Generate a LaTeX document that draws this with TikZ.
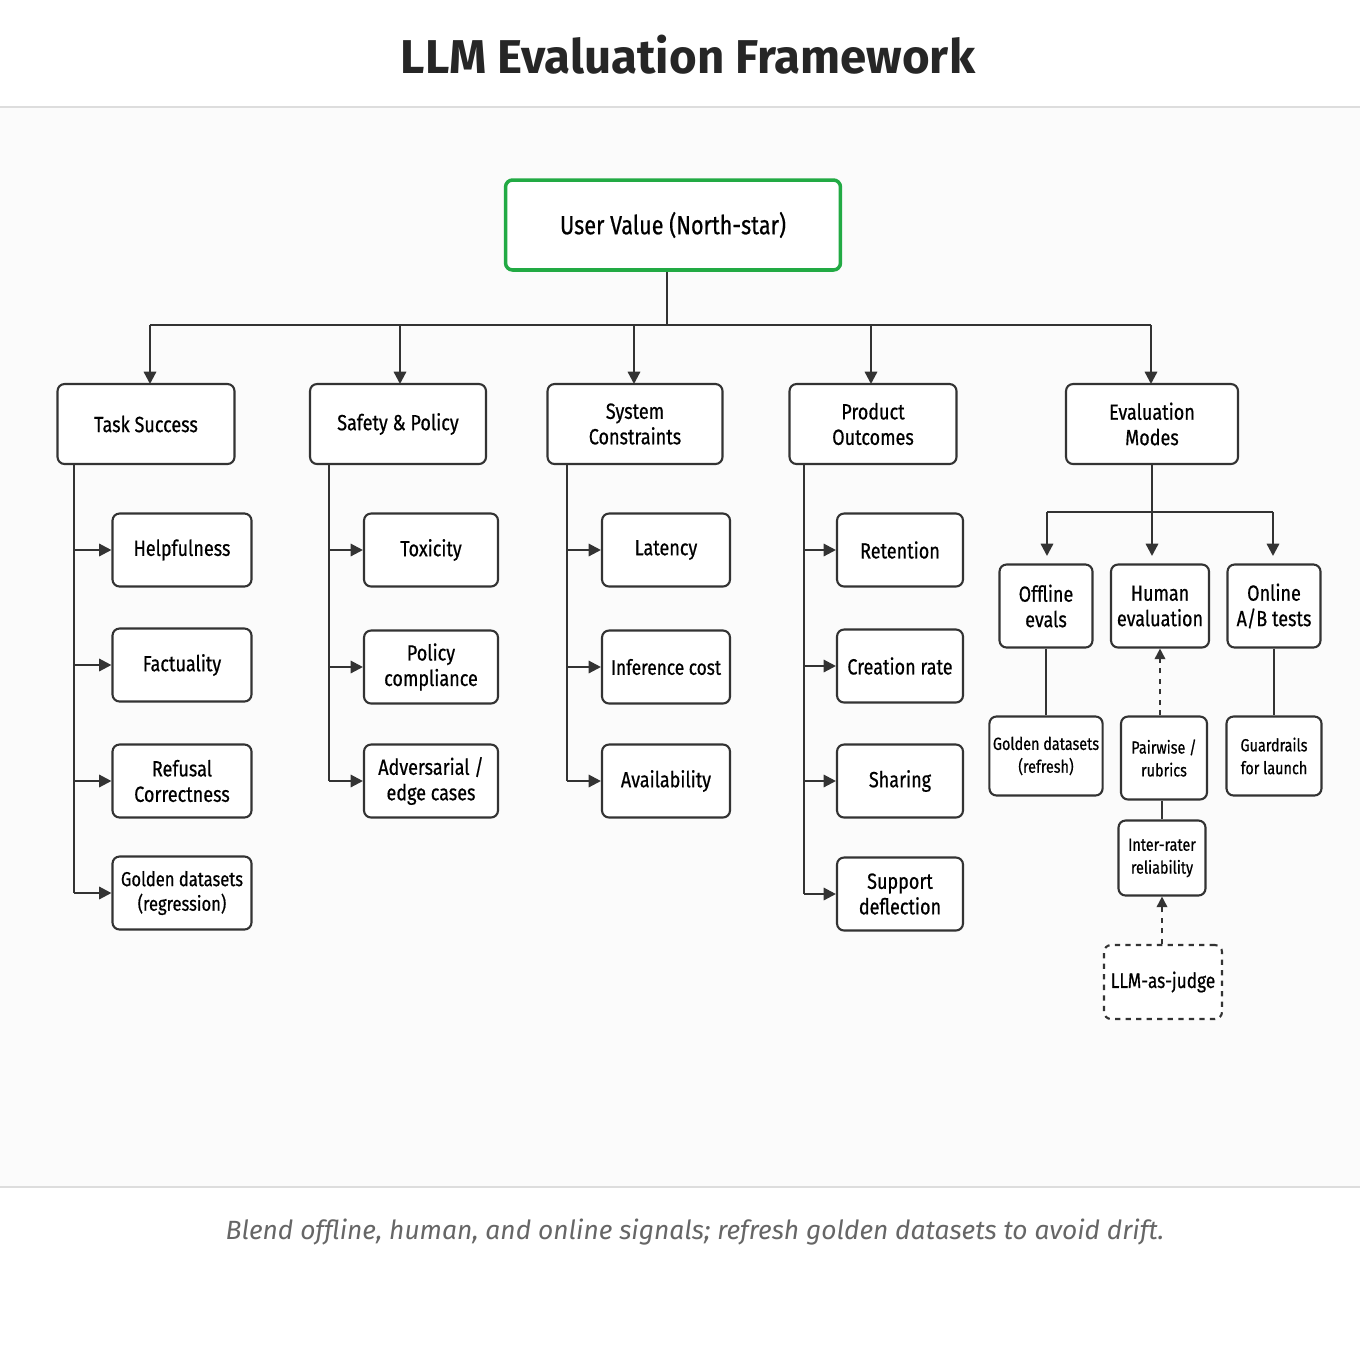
\documentclass[tikz,border=0pt]{standalone}
\usepackage{fontspec}
\setmainfont{Fira Sans}
\newfontfamily\boxfont[FakeStretch=0.82,FakeBold=0.6]{Fira Sans}
\usepackage{xcolor}
\usetikzlibrary{positioning, calc, arrows.meta}
\definecolor{rootgreen}{HTML}{22AA44}
\definecolor{linegray}{HTML}{DDDDDD}
\definecolor{footgray}{HTML}{666666}
\definecolor{boxline}{HTML}{333333}
\tikzset{
  box/.style={draw=boxline, line width=1.2pt, rounded corners=4pt, fill=white, align=center,
    font=\boxfont\fontsize{12.5}{14.5}\selectfont, inner sep=2pt},
  small/.style={box, font=\boxfont\fontsize{10}{13}\selectfont},
  link/.style={line width=1.3pt, draw=boxline},
  arr/.style={link, -{Triangle[length=7pt,width=7pt]}},
  darr/.style={line width=1pt, draw=boxline, dashed, -{Triangle[length=6pt,width=6pt]}}
}
\begin{document}
\begin{tikzpicture}[x=0.02cm,y=-0.02cm]
      \useasboundingbox (0,0) rectangle (1360,1360);
      \fill[white] (0,0) rectangle (1360,1360);
      \fill[black!1.5] (0,107) rectangle (1360,1187);
      \draw[linegray, line width=1pt] (0,107) -- (1360,107);
      \draw[linegray, line width=1pt] (0,1187) -- (1360,1187);
      \node[font=\bfseries\fontsize{27}{30}\selectfont, text=black!85] (title) at (688,55) {LLM Evaluation Framework};
      \node[font=\itshape\fontsize{15}{18}\selectfont, text=footgray] (foot) at (695,1232) {Blend offline, human, and online signals; refresh golden datasets to avoid drift.};
      % root
      \node[box, draw=rootgreen, line width=2pt, minimum width=6.7cm, minimum height=1.8cm, font=\boxfont\fontsize{15}{17}\selectfont] (root) at (673,225) {User Value (North-star)};
      % categories
      \node[box, minimum width=3.54cm, minimum height=1.6cm] (task) at (146,424) {Task Success};
      \node[box, minimum width=3.52cm, minimum height=1.6cm] (safety) at (398,424) {Safety \& Policy};
      \node[box, minimum width=3.5cm, minimum height=1.6cm] (system) at (635,424) {System\\Constraints};
      \node[box, minimum width=3.34cm, minimum height=1.6cm] (product) at (873,424) {Product\\Outcomes};
      \node[box, minimum width=3.44cm, minimum height=1.6cm] (modes) at (1152,424) {Evaluation\\Modes};
      \coordinate (bus) at (667,325);
      \draw[link] (root.south -| bus) -- (bus);
      \draw[link] (150,325) -- (1151,325);
      \foreach \n/\x in {task/150, safety/400, system/634, product/871, modes/1151}
        \draw[arr] (\x,325) -- (\x,384);
      % task success
      \node[box, minimum width=2.78cm, minimum height=1.46cm] (help) at (182,550) {Helpfulness};
      \node[box, minimum width=2.78cm, minimum height=1.46cm] (fact) at (182,665) {Factuality};
      \node[box, minimum width=2.78cm, minimum height=1.46cm] (refusal) at (182,781) {Refusal\\Correctness};
      \node[box, minimum width=2.78cm, minimum height=1.46cm, font=\boxfont\fontsize{11.5}{14}\selectfont] (golden) at (182,893) {Golden datasets\\(regression)};
      \draw[link] (74,464) -- (74,893);
      \foreach \n in {help, fact, refusal, golden}
        \draw[arr] (74,0 |- \n.west) -- (\n.west);
      % safety
      \node[box, minimum width=2.68cm, minimum height=1.46cm] (toxic) at (431,550) {Toxicity};
      \node[box, minimum width=2.68cm, minimum height=1.46cm] (policy) at (431,667) {Policy\\compliance};
      \node[box, minimum width=2.68cm, minimum height=1.46cm] (adv) at (431,781) {Adversarial /\\edge cases};
      \draw[link] (329,464) -- (329,781);
      \foreach \n in {toxic, policy, adv}
        \draw[arr] (329,0 |- \n.west) -- (\n.west);
      % system
      \node[box, minimum width=2.56cm, minimum height=1.46cm] (latency) at (666,550) {Latency};
      \node[box, minimum width=2.56cm, minimum height=1.46cm, font=\boxfont\fontsize{12}{14}\selectfont] (cost) at (666,667) {Inference cost};
      \node[box, minimum width=2.56cm, minimum height=1.46cm] (avail) at (666,781) {Availability};
      \draw[link] (567,464) -- (567,781);
      \foreach \n in {latency, cost, avail}
        \draw[arr] (567,0 |- \n.west) -- (\n.west);
      % product
      \node[box, minimum width=2.52cm, minimum height=1.46cm] (retention) at (900,550) {Retention};
      \node[box, minimum width=2.52cm, minimum height=1.46cm] (creation) at (900,666) {Creation rate};
      \node[box, minimum width=2.52cm, minimum height=1.46cm] (sharing) at (900,781) {Sharing};
      \node[box, minimum width=2.52cm, minimum height=1.46cm] (support) at (900,894) {Support\\deflection};
      \draw[link] (804,464) -- (804,894);
      \foreach \n in {retention, creation, sharing, support}
        \draw[arr] (804,0 |- \n.west) -- (\n.west);
      % evaluation modes
      \node[box, minimum width=1.86cm, minimum height=1.66cm] (offline) at (1046,606) {Offline\\evals};
      \node[box, minimum width=1.96cm, minimum height=1.66cm] (human) at (1160,606) {Human\\evaluation};
      \node[box, minimum width=1.86cm, minimum height=1.66cm] (online) at (1274,606) {Online\\A/B tests};
      \draw[link] (modes.south) -- (1152,512);
      \draw[link] (1047,512) -- (1273,512);
      \foreach \x in {1047, 1152, 1273}
        \draw[arr] (\x,512) -- (\x,556);
      \node[small, minimum width=2.18cm, minimum height=1.58cm] (gref) at (1046,756) {Golden datasets\\(refresh)};
      \node[small, minimum width=1.72cm, minimum height=1.66cm] (pair) at (1164,758) {Pairwise /\\rubrics};
      \node[small, minimum width=1.9cm, minimum height=1.58cm] (guard) at (1274,756) {Guardrails\\for launch};
      \node[small, minimum width=1.74cm, minimum height=1.5cm] (inter) at (1162,858) {Inter-rater\\reliability};
      \node[box, dashed, minimum width=2.36cm, minimum height=1.48cm, font=\boxfont\fontsize{12}{14}\selectfont] (judge) at (1163,982) {LLM-as-judge};
      \draw[link] (offline) -- (gref);
      \draw[link] (online) -- (guard);
      \draw[darr] (pair.north -| human) -- (human.south);
      \draw[link] (pair.south -| inter) -- (inter.north);
      \draw[darr] (judge.north -| inter) -- (inter.south);
\end{tikzpicture}
\end{document}
